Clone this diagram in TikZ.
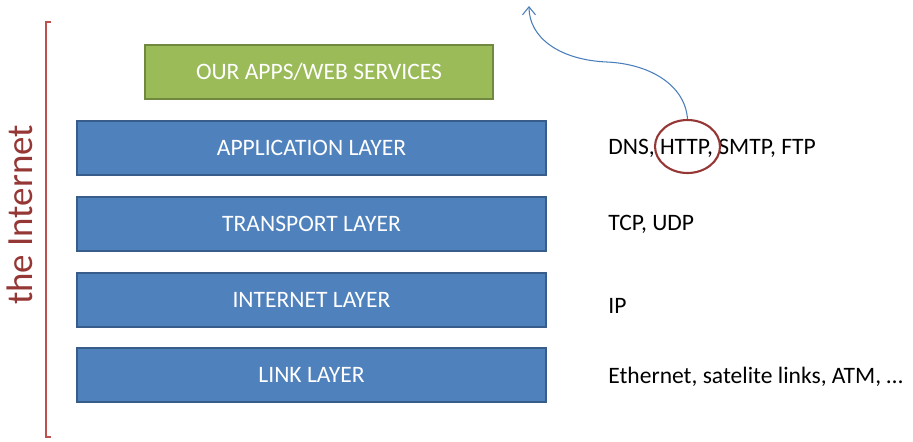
\documentclass[tikz,border=0pt]{standalone}
\usepackage{fontspec}
\setmainfont{Carlito}
\usepackage{tikz}
\usetikzlibrary{arrows.meta,shapes.geometric}
\definecolor{layerblue}{HTML}{4F81BD}
\definecolor{layeredge}{HTML}{385D8A}
\definecolor{appgreen}{HTML}{9BBB59}
\definecolor{appedge}{HTML}{71893F}
\definecolor{netred}{HTML}{953735}
\definecolor{bracketred}{HTML}{C0504D}
\definecolor{arrowblue}{HTML}{4A7EBB}
\tikzset{
  layer/.style={draw=layeredge, fill=layerblue, line width=1.1pt, minimum width=9.38cm, minimum height=1.08cm,
    text=white, font=\fontsize{13.4}{16}\selectfont},
  appbox/.style={layer, draw=appedge, fill=appgreen, minimum width=6.96cm},
  proto/.style={anchor=west, inner sep=0pt, font=\fontsize{13.4}{16}\selectfont},
  httpring/.style={ellipse, draw=netred, line width=1.2pt, minimum width=1.3cm, minimum height=1.06cm, inner sep=0pt},
  uparrow/.style={draw=arrowblue, line width=0.6pt, -{Straight Barb[length=1.6mm, width=2.6mm]}},
}
\begin{document}
\begin{tikzpicture}[x=0.02cm, y=-0.02cm]  % Pixelraster 913 x 441
  \useasboundingbox (0,0) rectangle (913,441);
  % Schichten
  \node[appbox] (apps) at (319,72) {OUR APPS/WEB SERVICES};
  \node[layer] (application) at (311.5,148) {APPLICATION LAYER};
  \node[layer] (transport) at (311.5,224) {TRANSPORT LAYER};
  \node[layer] (internet) at (311.5,300) {INTERNET LAYER};
  \node[layer] (link) at (311.5,375) {LINK LAYER};
  % Protokolle
  \node[proto] (dns) at (608,148) {DNS, HTTP, SMTP, FTP};
  \node[proto] (tcp) at (608,224) {TCP, UDP};
  \node[proto] (ip) at (608,306) {IP};
  \node[proto] (eth) at (608,377) {Ethernet, satelite links, ATM, …};
  % Klammer "the Internet"
  \draw[bracketred, line width=1.1pt] (51,22) -- (46,22) -- (46,437) -- (51,437);
  \node[text=netred, rotate=90, font=\fontsize{21}{25}\selectfont] (inet) at (20,215) {the Internet};
  % HTTP markiert, Pfeil nach oben
  \node[httpring] (http) at (687.5,146.5) {};
  \coordinate (top) at (529,6);
  \draw[uparrow] (http.north) .. controls (685,85) and (650,64) .. (607,62)
    .. controls (560,60) and (529,38) .. (top);
\end{tikzpicture}
\end{document}
